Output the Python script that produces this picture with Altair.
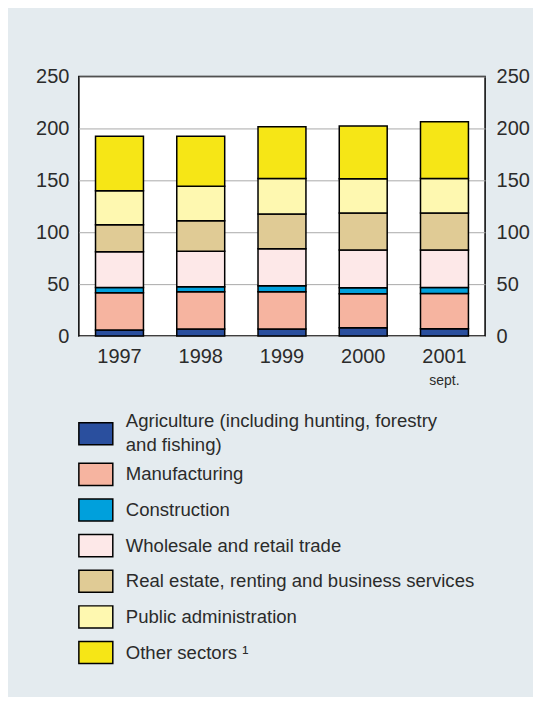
import altair as alt
import pandas as pd

years = ["1997", "1998", "1999", "2000", "2001"]
sectors = [
    "Agriculture (including hunting, forestry and fishing)",
    "Manufacturing",
    "Construction",
    "Wholesale and retail trade",
    "Real estate, renting and business services",
    "Public administration",
    "Other sectors",
]
legend_labels = [
    "Agriculture (including hunting, forestry\nand fishing)",
    "Manufacturing",
    "Construction",
    "Wholesale and retail trade",
    "Real estate, renting and business services",
    "Public administration",
    "Other sectors \u00b9",
]
colors = ["#2a4f9e", "#f6b4a0", "#00a0dc", "#fde8e8", "#e0cb95", "#fef8b0", "#f6e616"]

agriculture = [5.8, 6.7, 6.7, 8.0, 7.0]
manufacturing = [35.8, 35.9, 35.9, 32.7, 34.0]
construction = [5.2, 4.8, 5.8, 5.7, 5.8]
wholesale = [34.5, 34.3, 35.8, 36.5, 36.1]
real_estate = [26.0, 29.4, 33.3, 35.6, 35.6]
public_admin = [32.6, 33.3, 34.3, 33.0, 33.3]
other = [52.5, 48.0, 49.9, 50.9, 54.7]

series = [agriculture, manufacturing, construction, wholesale, real_estate, public_admin, other]
y_ticks = [0, 50, 100, 150, 200, 250]
note_year = ["2001"]
note_text = ["sept."]

rows = []
for i, (s, vals) in enumerate(zip(sectors, series)):
    for y, v in zip(years, vals):
        rows.append({"year": y, "sector": s, "value": v, "idx": i})
df = pd.DataFrame(rows)

FONT = "Liberation Sans"
TXT = "#2b2b2b"
W, H = 407, 260

color_scale = alt.Scale(domain=sectors, range=colors)
x_enc = alt.X(
    "year:N", sort=years, title=None,
    scale=alt.Scale(paddingInner=0.41, paddingOuter=0.205),
    axis=alt.Axis(labelAngle=0, domain=False, ticks=False, labelFontSize=20,
                  labelPadding=11, labelColor=TXT, labelFont=FONT),
)

bars = alt.Chart(df).mark_bar(stroke="black", strokeWidth=1.5).encode(
    x=x_enc,
    y=alt.Y("value:Q", stack="zero", title=None,
            scale=alt.Scale(domain=[0, 250]),
            axis=alt.Axis(values=y_ticks, grid=True, gridColor="#aaaaaa", gridWidth=1,
                          domain=False, ticks=False, labelFontSize=20, labelPadding=10,
                          labelColor=TXT, labelFont=FONT, orient="left")),
    color=alt.Color("sector:N", scale=color_scale, legend=None),
    order=alt.Order("idx:Q"),
)

bars_right = alt.Chart(df).mark_bar(opacity=0).encode(
    x=alt.X("year:N", sort=years),
    y=alt.Y("value:Q", stack="zero", title=None,
            scale=alt.Scale(domain=[0, 250]),
            axis=alt.Axis(values=y_ticks, grid=False, domain=False, ticks=False,
                          labelFontSize=20, labelPadding=11, labelColor=TXT,
                          labelFont=FONT, orient="right")),
    order=alt.Order("idx:Q"),
)

note = alt.Chart(pd.DataFrame({"year": note_year, "note": note_text})).mark_text(
    fontSize=14, font=FONT, color=TXT, baseline="middle"
).encode(
    x=alt.X("year:N", sort=years),
    y=alt.value(H + 45),
    text="note:N",
)

main = alt.layer(bars, bars_right, note).resolve_axis(y="independent").properties(
    width=W, height=H,
    view=alt.ViewBackground(stroke="black", strokeWidth=1.5, fill="white"),
)

leg_df = pd.DataFrame({"sector": sectors, "label": legend_labels, "idx": list(range(len(sectors)))})
leg_y = alt.Y("sector:N", sort=sectors, axis=None,
              scale=alt.Scale(paddingInner=0.38, paddingOuter=0.19))

base_leg = alt.Chart(leg_df)
rect_first = base_leg.mark_rect(stroke="black", strokeWidth=1.5, yOffset=-5).encode(
    y=leg_y, x=alt.value(0), x2=alt.value(34),
    color=alt.Color("sector:N", scale=color_scale, legend=None),
).transform_filter("datum.idx == 0")
rect_rest = base_leg.mark_rect(stroke="black", strokeWidth=1.5).encode(
    y=leg_y, x=alt.value(0), x2=alt.value(34),
    color=alt.Color("sector:N", scale=color_scale, legend=None),
).transform_filter("datum.idx > 0")
text_first = base_leg.mark_text(
    align="left", baseline="middle", fontSize=18.6, font=FONT, color=TXT,
    lineBreak="\n", lineHeight=24, dy=-18,
).encode(y=leg_y, x=alt.value(47), text="label:N").transform_filter("datum.idx == 0")
text_rest = base_leg.mark_text(
    align="left", baseline="middle", fontSize=18.6, font=FONT, color=TXT,
).encode(y=leg_y, x=alt.value(47), text="label:N").transform_filter("datum.idx > 0")

legend = alt.layer(rect_first, rect_rest, text_first, text_rest).properties(
    width=W, height=250, view=alt.ViewBackground(stroke=None),
)

chart = alt.vconcat(main, legend, spacing=22).properties(
    background="#e4ebef",
    padding={"left": 26, "top": 57, "right": 2, "bottom": 26},
).configure_view(strokeWidth=0)

chart.save("out.html", embed_options={"renderer": "svg", "actions": False})
